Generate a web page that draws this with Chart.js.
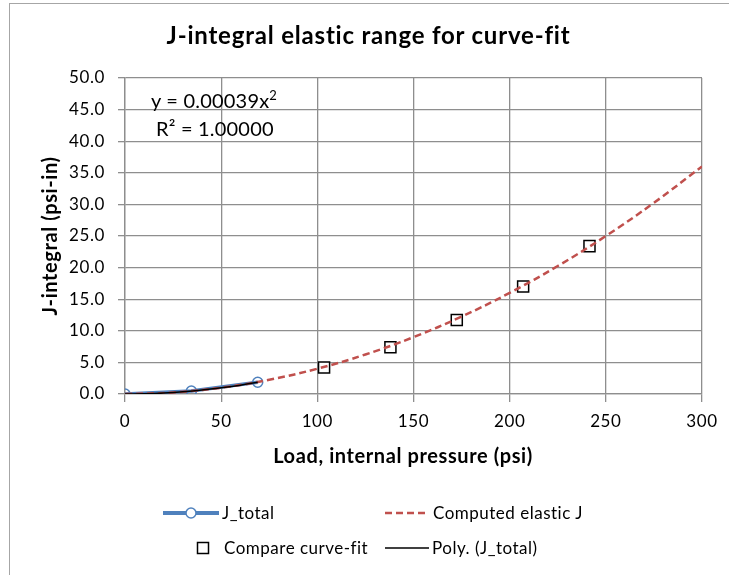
<!DOCTYPE html>
<html><head><meta charset="utf-8">
<script src="https://cdn.jsdelivr.net/npm/chart.js@4"></script>
<style>
html,body{margin:0;padding:0;background:#fff;}
#wrap{position:relative;width:729px;height:575px;overflow:hidden;font-family:Lato,"Open Sans",sans-serif;color:#000;}
#frame{position:absolute;left:9px;top:3px;width:760px;height:620px;border:1.5px solid #a6a6a6;box-sizing:border-box;}
#c{position:absolute;left:0;top:0;}
#title{position:absolute;left:4px;width:729px;top:20px;text-align:center;font-weight:bold;font-size:24px;line-height:30px;letter-spacing:0.8px;white-space:nowrap;}
#xtitle{position:absolute;left:0;width:806px;top:443px;text-align:center;font-weight:bold;font-size:20px;line-height:24px;letter-spacing:0.6px;white-space:nowrap;}
.eq{position:absolute;font-size:20px;line-height:24px;letter-spacing:0.2px;white-space:nowrap;}
.lg{position:absolute;font-size:17px;line-height:20px;letter-spacing:0.5px;white-space:nowrap;}
.ic{position:absolute;}
</style></head>
<body>
<div id="wrap">
<div id="frame"></div>
<canvas id="c" width="729" height="575"></canvas>
<div id="title">J-integral elastic range for curve-fit</div>
<div id="xtitle">Load, internal pressure (psi)</div>
<div class="eq" style="left:151px;top:88px;">y = 0.00039x<sup style="font-size:13px;vertical-align:8px;line-height:0">2</sup></div>
<div class="eq" style="left:156px;top:116px;">R² = 1.00000</div>

<svg class="ic" style="left:160px;top:503px" width="62" height="20"><line x1="3" y1="10" x2="59" y2="10" stroke="#4f81bd" stroke-width="4"/><circle cx="31" cy="10" r="5" fill="#fff" stroke="#4f81bd" stroke-width="1.5"/></svg>
<div class="lg" style="left:222px;top:503px">J_total</div>
<svg class="ic" style="left:382px;top:503px" width="50" height="20"><line x1="3" y1="10" x2="47" y2="10" stroke="#c0504d" stroke-width="2.5" stroke-dasharray="7,4"/></svg>
<div class="lg" style="left:433px;top:503px">Computed elastic J</div>
<svg class="ic" style="left:192px;top:538px" width="22" height="20"><rect x="5.5" y="4.5" width="11" height="11" fill="#fff" stroke="#000" stroke-width="1.5"/></svg>
<div class="lg" style="left:224px;top:538px">Compare curve-fit</div>
<svg class="ic" style="left:382px;top:538px" width="50" height="20"><line x1="3" y1="10" x2="47" y2="10" stroke="#000" stroke-width="1.5"/></svg>
<div class="lg" style="left:432px;top:538px">Poly. (J_total)</div>
</div>
<script>
// Data
const jTotalX = [0, 34.5, 69];
const jTotalY = [0, 0.46, 1.86];
const elasticX = [0, 25, 50, 75, 100, 125, 150, 175, 200, 225, 250, 275, 300];
const elasticY = [0, 0.25, 1.0, 2.25, 4.0, 6.25, 9.0, 12.25, 16.0, 20.25, 25.0, 30.25, 36.0];
const compareX = [103.5, 138, 172.5, 207, 241.5];
const compareY = [4.2, 7.4, 11.7, 17.0, 23.4];
const polyX = [0, 10, 20, 30, 40, 50, 60, 69];
const polyY = [0, 0.04, 0.16, 0.35, 0.62, 0.98, 1.40, 1.86];
const xTicks = [0, 50, 100, 150, 200, 250, 300];
const yTicks = [0, 5, 10, 15, 20, 25, 30, 35, 40, 45, 50];

const pts = (xs, ys) => xs.map((x, i) => ({x: x, y: ys[i]}));
const gridColor = '#8e8e8e';
const FONT = 'Lato, "Open Sans", sans-serif';

const spacing = {
  id: 'spacing',
  beforeLayout(chart) { chart.ctx.letterSpacing = '0.6px'; },
  beforeDraw(chart) { chart.ctx.letterSpacing = '0.6px'; }
};

new Chart(document.getElementById('c'), {
  type: 'scatter',
  plugins: [spacing],
  data: {
    datasets: [
      {label: 'Poly. (J_total)', data: pts(polyX, polyY), showLine: true, borderColor: '#000', borderWidth: 1.5, pointRadius: 0, tension: 0.4, fill: false},
      {label: 'Computed elastic J', data: pts(elasticX, elasticY), showLine: true, borderColor: '#c0504d', borderWidth: 2.5, borderDash: [7, 4], pointRadius: 0, tension: 0.4, fill: false},
      {label: 'Compare curve-fit', data: pts(compareX, compareY), showLine: false, pointStyle: 'rect', pointRadius: 7.8, pointBackgroundColor: '#fff', pointBorderColor: '#000', pointBorderWidth: 1.5},
      {label: 'J_total', data: pts(jTotalX, jTotalY), showLine: true, borderColor: '#4f81bd', borderWidth: 3.5, pointStyle: 'circle', pointRadius: 5, pointBackgroundColor: 'rgba(255,255,255,0)', pointBorderColor: '#4f81bd', pointBorderWidth: 1.5, fill: false}
    ]
  },
  options: {
    responsive: false,
    animation: false,
    events: [],
    layout: {padding: {left: 0, top: 78, right: 27, bottom: 0}},
    plugins: {legend: {display: false}, tooltip: {enabled: false}},
    scales: {
      x: {
        type: 'linear', min: 0, max: 300,
        afterBuildTicks: s => { s.ticks = xTicks.map(v => ({value: v})); },
        afterFit: s => { s.height = 181; s.paddingLeft = 0; s.paddingRight = 0; },
        ticks: {color: '#000', font: {family: FONT, size: 17}, padding: 9, maxRotation: 0},
        grid: {color: gridColor, lineWidth: 1.3, tickLength: 8, drawTicks: true},
        border: {color: gridColor, width: 1.3},
        title: {display: false}
      },
      y: {
        type: 'linear', min: 0, max: 50,
        afterBuildTicks: s => { s.ticks = yTicks.map(v => ({value: v})); },
        afterFit: s => { s.width = 125; },
        ticks: {color: '#000', font: {family: FONT, size: 17}, padding: 13, callback: v => Number(v).toFixed(1)},
        grid: {color: gridColor, lineWidth: 1.3, tickLength: 7, drawTicks: true},
        border: {color: gridColor, width: 1.3},
        title: {display: true, text: 'J-integral (psi-in)', color: '#000', font: {family: FONT, size: 20, weight: 'bold'}, padding: {top: 39}}
      }
    }
  }
});
</script>
</body></html>
